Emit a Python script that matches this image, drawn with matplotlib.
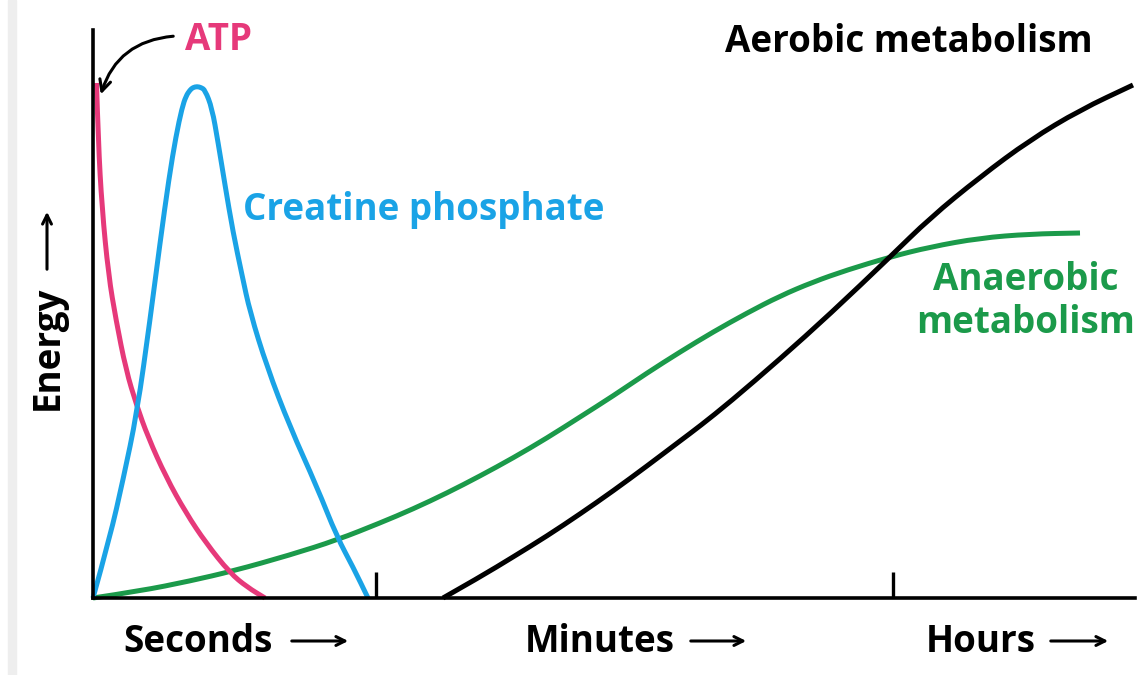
import matplotlib
matplotlib.use("Agg")
import matplotlib.pyplot as plt
from matplotlib.patches import Rectangle, FancyArrowPatch, PathPatch
from matplotlib.path import Path

plt.rcParams['font.family'] = ['Open Sans', 'DejaVu Sans']

# curves (time units / energy units, arbitrary)
atp_x = [3.5, 5.3, 9, 15.5, 23, 33, 43.5, 55, 73, 93, 113, 137, 154, 172]
atp_y = [515, 456, 390, 323, 278, 228, 193, 161, 121, 85, 55, 25, 11, 0]

cp_x = [0, 17, 30, 44, 57, 67, 76, 83, 89, 93, 97, 100, 104, 108, 112,
        119, 125, 132, 140, 149, 157, 174, 197, 224, 244, 260, 275]
cp_y = [0, 61, 118, 185, 278, 355, 420, 462, 490, 502, 508, 510.5, 511.5,
        510.5, 508, 490, 456, 413, 366, 323, 286, 231, 171, 111, 61, 31, 0]

anaer_x = [0, 47, 97, 140, 197, 244, 287, 320, 354, 387, 420, 454, 487, 520,
           554, 587, 620, 654, 687, 720, 754, 797, 837, 887, 937, 987]
anaer_y = [0, 7, 17, 27, 43, 58, 75, 89, 105, 122, 140, 160, 181, 202,
           225, 246, 266, 285, 302, 316, 328, 341, 351, 360, 364, 365]

aer_x = [350, 387, 420, 454, 487, 520, 554, 587, 607, 637, 687, 737, 797,
         837, 887, 937, 987, 1040]
aer_y = [0, 21, 41, 62, 84, 107, 132, 157, 172, 196, 239, 284, 341,
         380, 421, 458, 488, 513]

boundary_ticks = [283, 800]
time_labels = ["Seconds", "Minutes", "Hours"]

PINK = "#e6397a"
BLUE = "#1aa3e6"
GREEN = "#1b9a4a"

W, H = 1139, 675
fig = plt.figure(figsize=(W / 100, H / 100), dpi=100)
fig.patches.append(Rectangle((8 / W, 0), 8 / W, 1, transform=fig.transFigure,
                             color="#eeeeee", zorder=0))

ax = fig.add_axes([93 / W, 1 - 598 / H, 1042 / W, 568 / H])
ax.set_xlim(0, 1042)
ax.set_ylim(0, 568)
for s in ["top", "right"]:
    ax.spines[s].set_visible(False)
for s in ["left", "bottom"]:
    ax.spines[s].set_linewidth(2.6)
ax.set_yticks([])
ax.set_xticks(boundary_ticks)
ax.set_xticklabels([])
ax.tick_params(axis="x", direction="in", length=19, width=2.4, color="black")


def curve(xs, ys, color):
    # smooth path through the read points (quadratic pieces between midpoints)
    pts = list(zip(xs, ys))
    verts, codes = [pts[0]], [Path.MOVETO]
    for i in range(1, len(pts) - 1):
        mid = ((pts[i][0] + pts[i + 1][0]) / 2, (pts[i][1] + pts[i + 1][1]) / 2)
        verts += [pts[i], mid]
        codes += [Path.CURVE3, Path.CURVE3]
    verts.append(pts[-1])
    codes.append(Path.LINETO)
    ax.add_patch(PathPatch(Path(verts, codes), fill=False, edgecolor=color,
                           lw=3.6, capstyle="butt", joinstyle="round",
                           clip_on=False))


curve(anaer_x, anaer_y, GREEN)
curve(aer_x, aer_y, "black")
curve(atp_x, atp_y, PINK)
curve(cp_x, cp_y, BLUE)


def px(x, y):
    return x / W, 1 - y / H


fs = 26.5
bold = dict(fontsize=fs, fontweight="bold", va="baseline")
fig.text(*px(185, 50), "ATP", color=PINK, ha="left", **bold)
fig.text(*px(243, 220), "Creatine phosphate", color=BLUE, ha="left", **bold)
fig.text(*px(725, 52), "Aerobic metabolism", color="black", ha="left", **bold)
fig.text(*px(1026, 290), "Anaerobic", color=GREEN, ha="center", **bold)
fig.text(*px(1026, 333), "metabolism", color=GREEN, ha="center", **bold)
fig.text(*px(58, 410), "Energy", color="black", ha="left", rotation=90,
         rotation_mode="anchor", **bold)

arrow = dict(arrowstyle="->", color="black", lw=2.2, mutation_scale=16)
fig.add_artist(FancyArrowPatch(px(47, 272), px(47, 209),
                               transform=fig.transFigure, **arrow))

word_left = [123, 525, 926]
arrow_span = [(289, 351), (688, 749), (1048, 1111)]
for lab, xl, (a0, a1) in zip(time_labels, word_left, arrow_span):
    fig.text(*px(xl, 652), lab, color="black", ha="left", **bold)
    fig.add_artist(FancyArrowPatch(px(a0, 641), px(a1, 641),
                                   transform=fig.transFigure, **arrow))

# curved pointer to the ATP curve
fig.add_artist(FancyArrowPatch(
    px(176, 36), px(100, 97), transform=fig.transFigure,
    connectionstyle="arc3,rad=0.35", arrowstyle="->", color="black", lw=2.2,
    mutation_scale=20))

fig.savefig("out.png", dpi=100)
